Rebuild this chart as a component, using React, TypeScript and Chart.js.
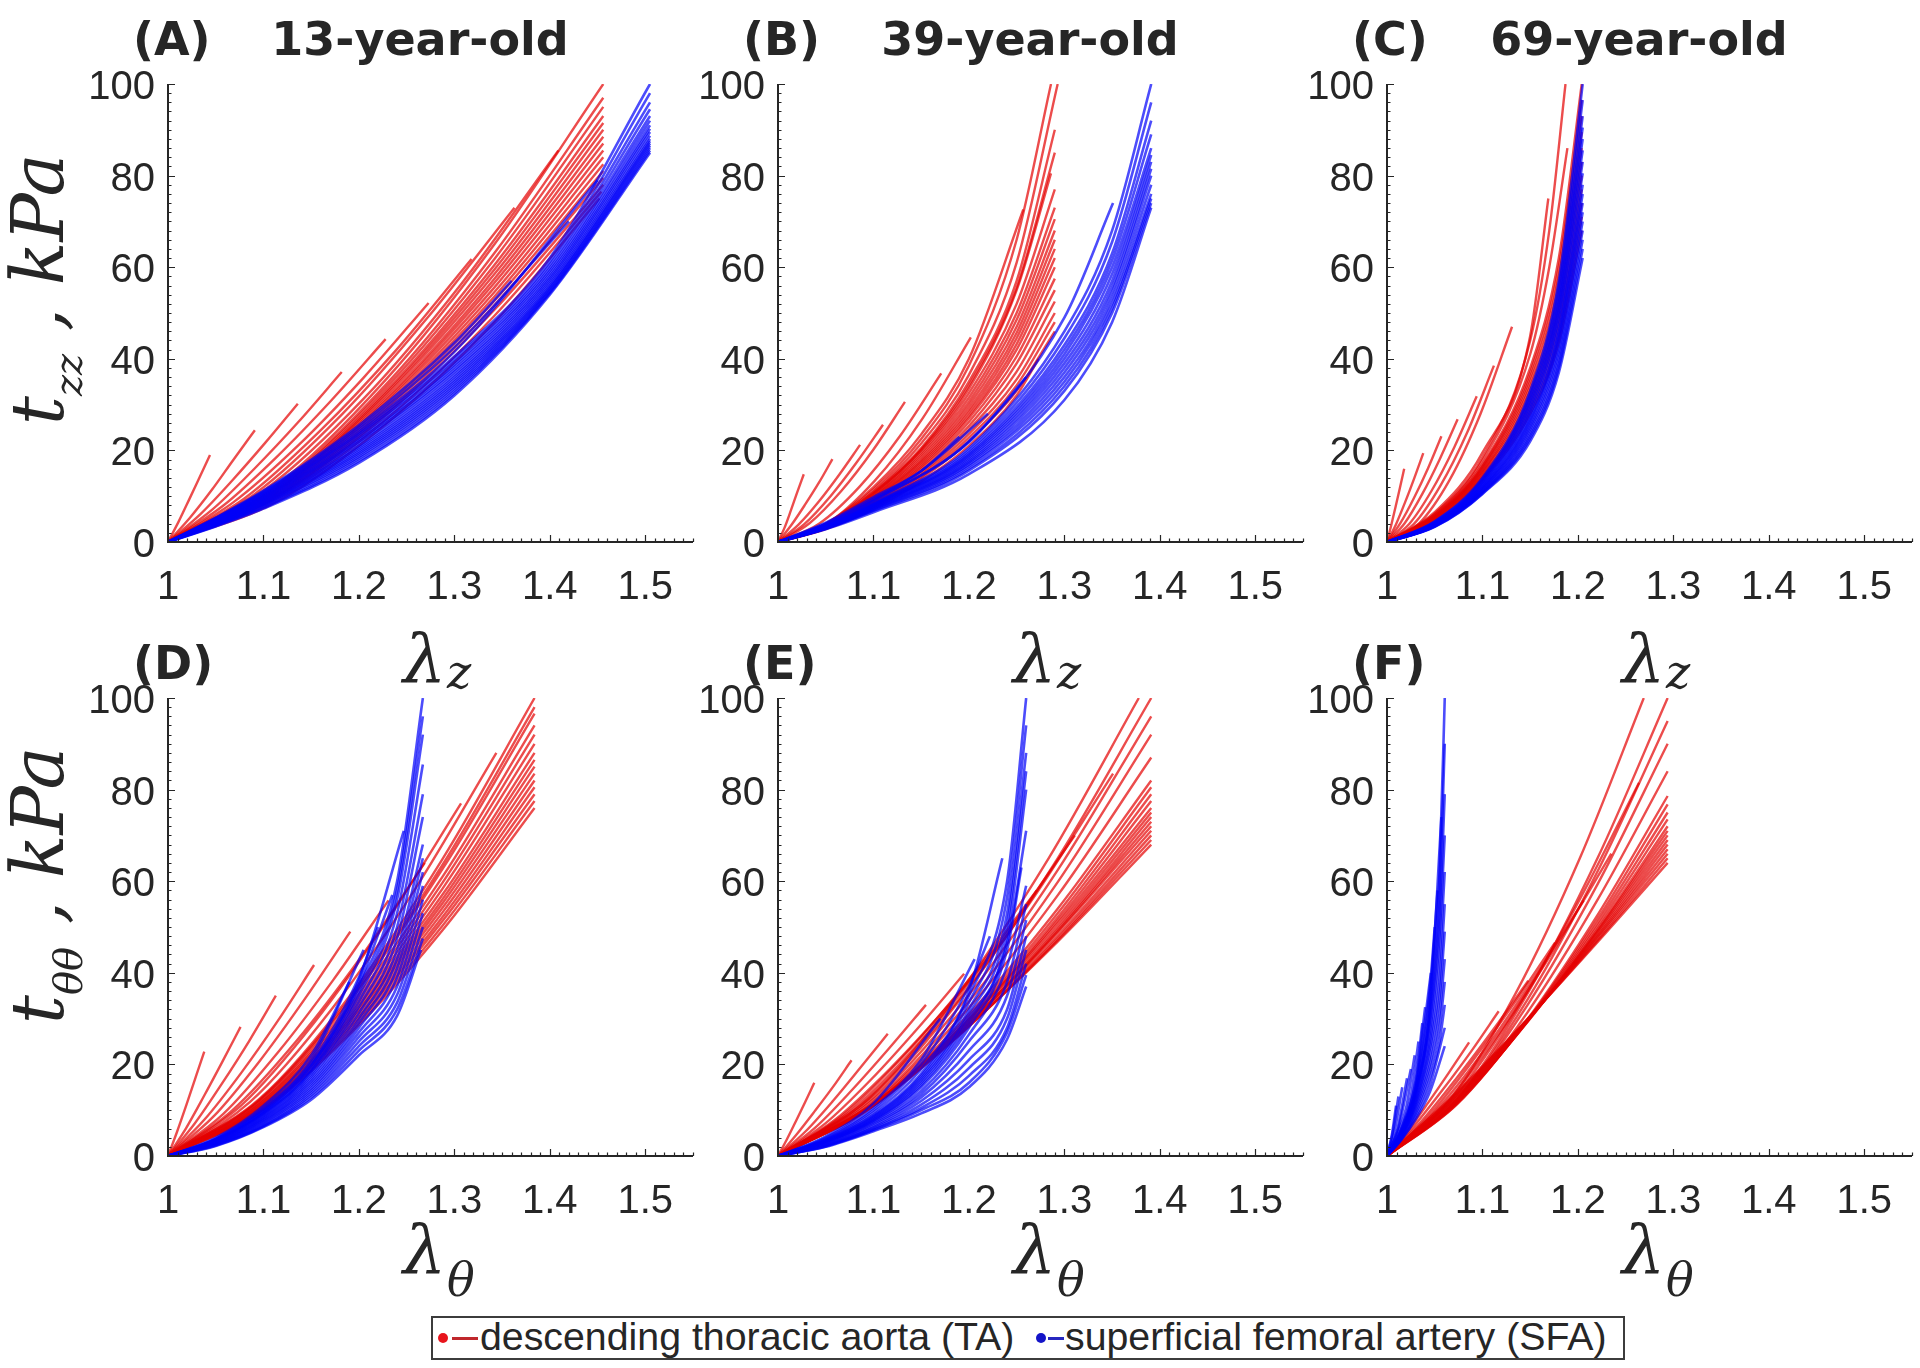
import React, { useEffect, useRef } from 'react';
import { Chart, registerables } from 'chart.js';

Chart.register(...registerables);

type Curve = [number, number][];

// ---------------- data ----------------
const X_TICKS = [1, 1.1, 1.2, 1.3, 1.4, 1.5];
const Y_TICKS = [0, 20, 40, 60, 80, 100];
const X_MIN = 1;
const X_MAX = 1.55;
const Y_MIN = 0;
const Y_MAX = 100;
const START: [number, number] = [1, 0];

const PANEL_LETTERS = ['(A)', '(B)', '(C)', '(D)', '(E)', '(F)'];
const AGE_TITLES = ['13-year-old', '39-year-old', '69-year-old'];
const SERIES_NAMES = ['descending thoracic aorta (TA)', 'superficial femoral artery (SFA)'];

// (A) 13-year-old, t_zz vs lambda_z
const A_TA: Curve[] = [
  [[1.011, 4.4], [1.022, 9.2], [1.033, 14.1], [1.044, 19]],
  [[1.023, 5.3], [1.046, 11.4], [1.068, 17.8], [1.091, 24.4]],
  [[1.034, 6.1], [1.068, 13.6], [1.102, 21.7], [1.136, 30.2]],
  [[1.046, 7.0], [1.091, 16.1], [1.137, 26.3], [1.182, 37.1]],
  [[1.057, 7.8], [1.114, 18.6], [1.171, 30.9], [1.228, 44.3]],
  [[1.068, 8.6], [1.137, 21.2], [1.205, 35.9], [1.273, 52.2]],
  [[1.08, 9.5], [1.159, 24.2], [1.239, 41.9], [1.318, 61.8]],
  [[1.091, 10.5], [1.182, 27.8], [1.272, 49.0], [1.363, 73]],
  [[1.102, 11.5], [1.205, 31.3], [1.307, 56.3], [1.409, 85.5]],
  [[1.114, 12.5], [1.228, 35.4], [1.342, 65.0], [1.456, 100]],
  [[1.114, 12.1], [1.228, 34.3], [1.342, 63.1], [1.456, 97]],
  [[1.114, 11.9], [1.228, 33.6], [1.342, 61.8], [1.456, 95]],
  [[1.114, 11.6], [1.228, 32.9], [1.342, 60.5], [1.456, 93]],
  [[1.114, 11.4], [1.228, 32.4], [1.342, 59.5], [1.456, 91.5]],
  [[1.114, 11.3], [1.228, 31.9], [1.342, 58.5], [1.456, 90]],
  [[1.114, 11.1], [1.228, 31.3], [1.342, 57.5], [1.456, 88.5]],
  [[1.114, 10.9], [1.228, 30.8], [1.342, 56.6], [1.456, 87]],
  [[1.114, 10.7], [1.228, 30.3], [1.342, 55.6], [1.456, 85.5]],
  [[1.114, 10.5], [1.228, 29.7], [1.342, 54.6], [1.456, 84]],
  [[1.114, 10.3], [1.228, 29.2], [1.342, 53.6], [1.456, 82.5]],
  [[1.114, 10.1], [1.228, 28.7], [1.342, 52.7], [1.456, 81]],
  [[1.114, 9.9], [1.228, 28.1], [1.342, 51.7], [1.456, 79.5]],
  [[1.114, 9.8], [1.228, 27.6], [1.342, 50.7], [1.456, 78]],
  [[1.114, 9.4], [1.228, 26.7], [1.342, 49.4], [1.454, 76.5]],
  [[1.114, 8.8], [1.228, 25.7], [1.342, 48.0], [1.452, 75]],
];
const A_SFA: Curve[] = [
  [[1.05, 5.0], [1.1, 10.6], [1.2, 24.0], [1.3, 40.5], [1.4, 62], [1.505, 100]],
  [[1.05, 4.9], [1.1, 10.4], [1.2, 23.6], [1.3, 39.9], [1.4, 61.2], [1.505, 98]],
  [[1.05, 4.8], [1.1, 10.2], [1.2, 23.2], [1.3, 39.3], [1.4, 60.5], [1.505, 96]],
  [[1.05, 4.7], [1.1, 10.0], [1.2, 22.7], [1.3, 38.7], [1.4, 59.8], [1.505, 94.5]],
  [[1.05, 4.6], [1.1, 9.8], [1.2, 22.3], [1.3, 38.2], [1.4, 59.2], [1.505, 93]],
  [[1.05, 4.5], [1.1, 9.6], [1.2, 21.9], [1.3, 37.6], [1.4, 58.6], [1.505, 92]],
  [[1.05, 4.4], [1.1, 9.4], [1.2, 21.5], [1.3, 37.1], [1.4, 58], [1.505, 91]],
  [[1.05, 4.3], [1.1, 9.2], [1.2, 21.0], [1.3, 36.5], [1.4, 57.5], [1.505, 90.2]],
  [[1.05, 4.2], [1.1, 9.0], [1.2, 20.6], [1.3, 36.0], [1.4, 57], [1.505, 89.5]],
  [[1.05, 4.1], [1.1, 8.8], [1.2, 20.2], [1.3, 35.5], [1.4, 56.5], [1.505, 88.7]],
  [[1.05, 4.0], [1.1, 8.6], [1.2, 19.8], [1.3, 35.0], [1.4, 56], [1.505, 88]],
  [[1.05, 3.9], [1.1, 8.4], [1.2, 19.4], [1.3, 34.5], [1.4, 55.6], [1.505, 87.5]],
  [[1.05, 3.8], [1.1, 8.2], [1.2, 19.0], [1.3, 34.0], [1.4, 55.3], [1.505, 87]],
  [[1.05, 3.7], [1.1, 8.0], [1.2, 18.6], [1.3, 33.5], [1.4, 54.9], [1.505, 86.5]],
  [[1.05, 3.6], [1.1, 7.8], [1.2, 18.2], [1.3, 33.0], [1.4, 54.6], [1.505, 86]],
  [[1.05, 3.5], [1.1, 7.5], [1.2, 17.7], [1.3, 32.5], [1.4, 54.3], [1.505, 85.5]],
  [[1.05, 3.4], [1.1, 7.3], [1.2, 17.3], [1.3, 32.0], [1.4, 54], [1.505, 85]],
  [[1.05, 5.3], [1.1, 11.2], [1.2, 25.5], [1.3, 43.5], [1.36, 57]],
  [[1.05, 5.2], [1.1, 11.0], [1.2, 25.0], [1.3, 42.5], [1.42, 70]],
  [[1.05, 5.1], [1.1, 10.8], [1.2, 24.5], [1.3, 41.5], [1.45, 79]],
];

// (B) 39-year-old, t_zz vs lambda_z
const B_TA: Curve[] = [
  [[1.007, 3.2], [1.0135, 6.9], [1.02, 10.8], [1.027, 14.8]],
  [[1.014, 3.7], [1.0285, 8.2], [1.043, 13.0], [1.057, 18.1]],
  [[1.0215, 3.8], [1.043, 8.9], [1.0645, 14.8], [1.086, 21.2]],
  [[1.0275, 3.9], [1.055, 10.0], [1.0825, 17.4], [1.11, 25.6]],
  [[1.033, 4.1], [1.0665, 11.2], [1.1, 20.2], [1.133, 30.6]],
  [[1.043, 4.0], [1.0855, 12.1], [1.128, 23.2], [1.171, 36.8]],
  [[1.0505, 3.9], [1.101, 13.3], [1.1515, 27.0], [1.202, 44.7]],
  [[1.05, 4.0], [1.1, 12.0], [1.15, 23.5], [1.2, 40], [1.257, 72.6]],
  [[1.05, 4.0], [1.1, 11.5], [1.15, 22.5], [1.2, 38.5], [1.25, 66], [1.286, 100]],
  [[1.05, 3.9], [1.1, 11.0], [1.15, 21.5], [1.2, 36.5], [1.25, 61], [1.293, 100]],
  [[1.05, 3.9], [1.1, 10.8], [1.15, 20.5], [1.2, 35], [1.25, 57], [1.29, 90]],
  [[1.05, 3.8], [1.1, 10.6], [1.15, 20.2], [1.2, 34.2], [1.25, 55.5], [1.29, 85]],
  [[1.05, 3.8], [1.1, 10.5], [1.15, 20], [1.2, 33.5], [1.25, 55], [1.286, 80.5]],
  [[1.05, 3.7], [1.1, 10.2], [1.15, 19.5], [1.2, 32.5], [1.25, 52], [1.29, 77]],
  [[1.05, 3.6], [1.1, 10.0], [1.15, 19], [1.2, 31.5], [1.25, 50], [1.29, 73]],
  [[1.05, 3.55], [1.1, 9.8], [1.15, 18.5], [1.2, 30.6], [1.25, 48.5], [1.29, 70.5]],
  [[1.05, 3.5], [1.1, 9.6], [1.15, 18], [1.2, 29.8], [1.25, 47], [1.29, 68]],
  [[1.05, 3.45], [1.1, 9.4], [1.15, 17.6], [1.2, 29], [1.25, 45.7], [1.29, 66]],
  [[1.05, 3.4], [1.1, 9.2], [1.15, 17.2], [1.2, 28.3], [1.25, 44.5], [1.29, 64]],
  [[1.05, 3.35], [1.1, 9.0], [1.15, 16.8], [1.2, 27.6], [1.25, 43.2], [1.29, 62]],
  [[1.05, 3.3], [1.1, 8.8], [1.15, 16.4], [1.2, 27], [1.25, 42], [1.29, 60]],
  [[1.05, 3.2], [1.1, 8.6], [1.15, 16], [1.2, 26.2], [1.25, 40.5], [1.29, 57.5]],
  [[1.05, 3.1], [1.1, 8.4], [1.15, 15.5], [1.2, 25.3], [1.25, 39], [1.29, 55]],
  [[1.05, 3.05], [1.1, 8.2], [1.15, 15], [1.2, 24.5], [1.25, 37.2], [1.29, 52.5]],
  [[1.05, 3.0], [1.1, 8.0], [1.15, 14.6], [1.2, 23.6], [1.25, 35.5], [1.29, 50]],
  [[1.05, 2.95], [1.1, 7.8], [1.15, 14.2], [1.2, 22.8], [1.25, 34.2], [1.29, 48]],
  [[1.05, 2.9], [1.1, 7.6], [1.15, 13.8], [1.2, 22], [1.25, 33], [1.29, 46]],
  [[1.05, 2.8], [1.1, 7.3], [1.15, 13.2], [1.2, 21], [1.25, 32], [1.273, 40]],
];
const B_SFA: Curve[] = [
  [[1.05, 3.5], [1.1, 8.5], [1.2, 20.5], [1.3, 46], [1.35, 68], [1.391, 100]],
  [[1.05, 3.45], [1.1, 8.35], [1.2, 20], [1.3, 44.5], [1.35, 65.5], [1.391, 96]],
  [[1.05, 3.4], [1.1, 8.2], [1.2, 19.5], [1.3, 43], [1.35, 63], [1.391, 92]],
  [[1.05, 3.35], [1.1, 8.1], [1.2, 19.1], [1.3, 42], [1.35, 61.5], [1.391, 89]],
  [[1.05, 3.3], [1.1, 8.0], [1.2, 18.8], [1.3, 41], [1.35, 60], [1.391, 86]],
  [[1.05, 3.25], [1.1, 7.85], [1.2, 18.4], [1.3, 40], [1.35, 58.5], [1.391, 84.5]],
  [[1.05, 3.2], [1.1, 7.7], [1.2, 18.0], [1.3, 39], [1.35, 57], [1.391, 83]],
  [[1.05, 3.15], [1.1, 7.55], [1.2, 17.6], [1.3, 38], [1.35, 55.7], [1.391, 81.5]],
  [[1.05, 3.1], [1.1, 7.4], [1.2, 17.3], [1.3, 37], [1.35, 54.5], [1.391, 80]],
  [[1.05, 3.05], [1.1, 7.25], [1.2, 16.9], [1.3, 36], [1.35, 53.2], [1.391, 78]],
  [[1.05, 3.0], [1.1, 7.1], [1.2, 16.5], [1.3, 35], [1.35, 52], [1.391, 76]],
  [[1.05, 2.95], [1.1, 6.95], [1.2, 16], [1.3, 34], [1.35, 51], [1.391, 75]],
  [[1.05, 2.9], [1.1, 6.8], [1.2, 15.6], [1.3, 33], [1.35, 50], [1.391, 74]],
  [[1.05, 2.8], [1.1, 6.5], [1.2, 14.8], [1.3, 31], [1.35, 48], [1.391, 73]],
  [[1.05, 3.6], [1.1, 9.0], [1.2, 22.0], [1.3, 49], [1.351, 74]],
  [[1.05, 4.2], [1.1, 9.8], [1.15, 15.5], [1.19, 23]],
  [[1.05, 4.0], [1.1, 9.4], [1.15, 15.5], [1.22, 28]],
  [[1.05, 3.9], [1.1, 9.1], [1.2, 21.8], [1.26, 36]],
];

// (C) 69-year-old, t_zz vs lambda_z
const C_TA: Curve[] = [
  [[1.0045, 3.7], [1.009, 7.7], [1.0135, 11.8], [1.018, 16]],
  [[1.0095, 3.9], [1.019, 8.7], [1.0285, 13.9], [1.038, 19.4]],
  [[1.014, 4.1], [1.0285, 9.7], [1.043, 16.1], [1.057, 23.1]],
  [[1.0185, 4.1], [1.037, 10.5], [1.0555, 18.2], [1.074, 26.8]],
  [[1.0235, 4.0], [1.047, 11.3], [1.0705, 20.7], [1.094, 31.8]],
  [[1.028, 3.9], [1.056, 12.3], [1.084, 23.9], [1.112, 38.5]],
  [[1.033, 3.9], [1.0655, 13.5], [1.098, 28.0], [1.131, 47]],
  [[1.05, 6.5], [1.1, 19.5], [1.15, 45], [1.169, 75]],
  [[1.05, 6.2], [1.1, 18.5], [1.15, 44], [1.17, 68], [1.187, 100]],
  [[1.05, 6.0], [1.1, 17.8], [1.15, 41], [1.17, 60], [1.189, 86]],
  [[1.05, 5.8], [1.1, 17], [1.15, 38], [1.18, 62], [1.204, 100]],
  [[1.05, 5.7], [1.1, 16.6], [1.15, 37], [1.18, 60], [1.204, 96.5]],
  [[1.05, 5.6], [1.1, 16.3], [1.15, 36], [1.18, 58], [1.204, 93]],
  [[1.05, 5.5], [1.1, 16], [1.15, 35], [1.18, 56], [1.204, 89.5]],
  [[1.05, 5.4], [1.1, 15.6], [1.15, 34], [1.18, 54], [1.204, 86]],
  [[1.05, 5.3], [1.1, 15.3], [1.15, 33], [1.18, 52], [1.204, 83]],
  [[1.05, 5.2], [1.1, 15], [1.15, 32], [1.18, 50.5], [1.204, 80]],
  [[1.05, 5.1], [1.1, 14.6], [1.15, 31], [1.18, 48.7], [1.204, 77]],
  [[1.05, 5.0], [1.1, 14.3], [1.15, 30], [1.18, 47], [1.204, 74]],
  [[1.05, 4.9], [1.1, 14], [1.15, 29], [1.18, 45], [1.204, 71]],
  [[1.05, 4.8], [1.1, 13.6], [1.15, 28], [1.18, 43.5], [1.204, 68]],
];
const C_SFA: Curve[] = [
  [[1.05, 4.5], [1.1, 14], [1.15, 33], [1.18, 57], [1.205, 100]],
  [[1.05, 4.4], [1.1, 13.7], [1.15, 32.2], [1.18, 55.5], [1.205, 96.5]],
  [[1.05, 4.3], [1.1, 13.4], [1.15, 31.5], [1.18, 54], [1.205, 93]],
  [[1.05, 4.2], [1.1, 13.1], [1.15, 30.7], [1.18, 52.7], [1.205, 90.5]],
  [[1.05, 4.1], [1.1, 12.9], [1.15, 30], [1.18, 51.5], [1.205, 88]],
  [[1.05, 4.0], [1.1, 12.6], [1.15, 29.2], [1.18, 50.2], [1.205, 85.5]],
  [[1.05, 3.9], [1.1, 12.4], [1.15, 28.5], [1.18, 49], [1.205, 83]],
  [[1.05, 3.8], [1.1, 12.1], [1.15, 27.7], [1.18, 47.5], [1.205, 80.5]],
  [[1.05, 3.7], [1.1, 11.9], [1.15, 27], [1.18, 46], [1.205, 78]],
  [[1.05, 3.65], [1.1, 11.7], [1.15, 26.4], [1.18, 45], [1.205, 76]],
  [[1.05, 3.6], [1.1, 11.5], [1.15, 25.8], [1.18, 44], [1.205, 74]],
  [[1.05, 3.55], [1.1, 11.3], [1.15, 25.1], [1.18, 42.7], [1.205, 72]],
  [[1.05, 3.5], [1.1, 11.1], [1.15, 24.5], [1.18, 41.5], [1.205, 70]],
  [[1.05, 3.45], [1.1, 10.9], [1.15, 23.8], [1.18, 40.2], [1.205, 68]],
  [[1.05, 3.4], [1.1, 10.8], [1.15, 23.2], [1.18, 39], [1.205, 66]],
  [[1.05, 3.35], [1.1, 10.6], [1.15, 22.6], [1.18, 38], [1.205, 64]],
  [[1.05, 3.3], [1.1, 10.5], [1.15, 22], [1.18, 37], [1.205, 62]],
];

// (D) 13-year-old, t_thetatheta vs lambda_theta
const D_TA: Curve[] = [
  [[1.0095, 5.3], [1.019, 11.0], [1.0285, 16.9], [1.038, 22.8]],
  [[1.019, 6.1], [1.038, 13.2], [1.057, 20.6], [1.076, 28.2]],
  [[1.028, 7.1], [1.0565, 15.8], [1.085, 25.1], [1.113, 35]],
  [[1.038, 7.9], [1.0765, 18.1], [1.115, 29.5], [1.153, 41.7]],
  [[1.048, 8.7], [1.0955, 20.6], [1.143, 34.2], [1.191, 49]],
  [[1.058, 9.2], [1.1155, 22.7], [1.173, 38.4], [1.231, 55.8]],
  [[1.067, 9.9], [1.1345, 25.1], [1.202, 43.4], [1.269, 64]],
  [[1.077, 11.1], [1.1535, 29.2], [1.23, 51.5], [1.307, 77]],
  [[1.086, 11.8], [1.172, 32.2], [1.258, 58.0], [1.344, 88]],
  [[1.096, 12.5], [1.192, 35.4], [1.288, 65.0], [1.384, 100]],
  [[1.096, 12.3], [1.192, 34.7], [1.288, 63.7], [1.384, 98]],
  [[1.096, 12.1], [1.192, 34.2], [1.288, 62.8], [1.384, 96.6]],
  [[1.096, 11.8], [1.192, 33.3], [1.288, 61.1], [1.384, 94]],
  [[1.096, 11.5], [1.192, 32.6], [1.288, 59.8], [1.384, 92]],
  [[1.096, 11.3], [1.192, 31.9], [1.288, 58.5], [1.384, 90]],
  [[1.096, 11.0], [1.192, 31.2], [1.288, 57.2], [1.384, 88]],
  [[1.096, 10.8], [1.192, 30.6], [1.288, 56.2], [1.384, 86.5]],
  [[1.096, 10.6], [1.192, 30.1], [1.288, 55.3], [1.384, 85]],
  [[1.096, 10.4], [1.192, 29.6], [1.288, 54.3], [1.384, 83.5]],
  [[1.096, 10.3], [1.192, 29.0], [1.288, 53.3], [1.384, 82]],
  [[1.096, 10.1], [1.192, 28.5], [1.288, 52.3], [1.384, 80.5]],
  [[1.096, 9.9], [1.192, 28.0], [1.288, 51.4], [1.384, 79]],
  [[1.096, 9.7], [1.192, 27.4], [1.288, 50.4], [1.384, 77.5]],
  [[1.096, 9.5], [1.192, 26.9], [1.288, 49.4], [1.384, 76]],
];
const D_SFA: Curve[] = [
  [[1.05, 3.5], [1.1, 9.5], [1.15, 19], [1.2, 37], [1.24, 60], [1.267, 100]],
  [[1.05, 3.45], [1.1, 9.35], [1.15, 18.6], [1.2, 36], [1.24, 58], [1.267, 96]],
  [[1.05, 3.4], [1.1, 9.2], [1.15, 18.3], [1.2, 35], [1.24, 56], [1.267, 92]],
  [[1.05, 3.3], [1.1, 8.95], [1.15, 17.8], [1.2, 33.7], [1.24, 53], [1.267, 85.5]],
  [[1.05, 3.2], [1.1, 8.7], [1.15, 17.3], [1.2, 32.5], [1.24, 50], [1.267, 79]],
  [[1.05, 3.6], [1.1, 9.8], [1.15, 19.8], [1.2, 38.5], [1.247, 71]],
  [[1.05, 3.1], [1.1, 8.45], [1.15, 16.8], [1.2, 31.2], [1.24, 47.5], [1.267, 74]],
  [[1.05, 3.0], [1.1, 8.2], [1.15, 16.3], [1.2, 30], [1.24, 45], [1.267, 68]],
  [[1.05, 2.9], [1.1, 7.95], [1.15, 15.8], [1.2, 29], [1.24, 43], [1.267, 65]],
  [[1.05, 2.8], [1.1, 7.7], [1.15, 15.3], [1.2, 28], [1.24, 41], [1.267, 62]],
  [[1.05, 2.7], [1.1, 7.45], [1.15, 14.8], [1.2, 27], [1.24, 39], [1.267, 59]],
  [[1.05, 2.6], [1.1, 7.2], [1.15, 14.3], [1.2, 26], [1.24, 37], [1.267, 56]],
  [[1.05, 2.5], [1.1, 6.9], [1.15, 13.8], [1.2, 25], [1.24, 35.2], [1.267, 53]],
  [[1.05, 2.4], [1.1, 6.6], [1.15, 13.3], [1.2, 24], [1.24, 33.5], [1.267, 50]],
  [[1.05, 2.3], [1.1, 6.45], [1.15, 12.8], [1.2, 23], [1.24, 32], [1.267, 47.5]],
  [[1.05, 2.2], [1.1, 6.3], [1.15, 12.3], [1.2, 22], [1.24, 30.6], [1.265, 45]],
  [[1.05, 4.0], [1.1, 11], [1.15, 22], [1.19, 38]],
  [[1.05, 3.8], [1.1, 10.5], [1.15, 21], [1.205, 45]],
  [[1.05, 3.7], [1.1, 10.2], [1.15, 20.3], [1.2, 39], [1.22, 50]],
  [[1.05, 3.6], [1.1, 9.8], [1.15, 19.6], [1.2, 37.5], [1.235, 57]],
];

// (E) 39-year-old, t_thetatheta vs lambda_theta
const E_TA: Curve[] = [
  [[1.0095, 3.7], [1.019, 7.7], [1.0285, 11.8], [1.038, 16]],
  [[1.019, 4.6], [1.0385, 9.8], [1.058, 15.2], [1.077, 20.9]],
  [[1.029, 5.4], [1.0575, 12.0], [1.086, 19.2], [1.115, 26.7]],
  [[1.039, 6.2], [1.0775, 14.4], [1.116, 23.4], [1.155, 33]],
  [[1.049, 7.0], [1.0975, 16.7], [1.146, 27.8], [1.195, 39.8]],
  [[1.059, 7.8], [1.1175, 19.1], [1.176, 32.3], [1.235, 47]],
  [[1.068, 8.9], [1.1355, 22.7], [1.203, 39.3], [1.271, 58]],
  [[1.078, 10.1], [1.1555, 26.5], [1.233, 46.8], [1.311, 70]],
  [[1.088, 11.2], [1.1755, 30.6], [1.263, 55.0], [1.351, 83.5]],
  [[1.0945, 12.5], [1.189, 35.4], [1.2835, 65], [1.378, 100]],
  [[1.098, 12.5], [1.1955, 35.4], [1.293, 65.0], [1.391, 100]],
  [[1.098, 12.0], [1.1955, 34.0], [1.293, 62.4], [1.391, 96]],
  [[1.098, 11.5], [1.1955, 32.6], [1.293, 59.8], [1.391, 92]],
  [[1.098, 11.2], [1.1955, 31.3], [1.293, 56.9], [1.391, 87]],
  [[1.098, 11.0], [1.1955, 30.0], [1.293, 54.0], [1.391, 82]],
  [[1.098, 10.8], [1.1955, 29.4], [1.293, 53.0], [1.391, 80.5]],
  [[1.098, 10.6], [1.1955, 28.9], [1.293, 52.1], [1.391, 79]],
  [[1.098, 10.7], [1.1955, 28.8], [1.293, 51.4], [1.391, 77.5]],
  [[1.098, 10.9], [1.1955, 28.8], [1.293, 50.8], [1.391, 76]],
  [[1.098, 10.8], [1.1955, 28.4], [1.293, 50.1], [1.391, 75]],
  [[1.098, 10.7], [1.1955, 28.0], [1.293, 49.5], [1.391, 74]],
  [[1.098, 10.9], [1.1955, 28.1], [1.293, 49.1], [1.391, 73]],
  [[1.098, 11.1], [1.1955, 28.2], [1.293, 48.8], [1.391, 72]],
  [[1.098, 10.9], [1.1955, 27.8], [1.293, 48.1], [1.391, 71]],
  [[1.098, 10.8], [1.1955, 27.4], [1.293, 47.5], [1.391, 70]],
  [[1.098, 11.0], [1.1955, 27.5], [1.293, 47.1], [1.391, 69]],
  [[1.098, 11.2], [1.1955, 27.6], [1.293, 46.8], [1.391, 68]],
];
const E_SFA: Curve[] = [
  [[1.05, 3.5], [1.1, 9], [1.15, 18], [1.2, 35], [1.24, 60], [1.26, 100]],
  [[1.05, 3.4], [1.1, 8.75], [1.15, 17.5], [1.2, 33.5], [1.24, 56.5], [1.26, 94]],
  [[1.05, 3.3], [1.1, 8.5], [1.15, 17], [1.2, 32], [1.24, 53], [1.26, 88]],
  [[1.05, 3.2], [1.1, 8.25], [1.15, 16.5], [1.2, 31], [1.24, 50.5], [1.26, 84]],
  [[1.05, 3.1], [1.1, 8], [1.15, 16], [1.2, 30], [1.24, 48], [1.26, 80]],
  [[1.05, 3.05], [1.1, 7.8], [1.15, 15.5], [1.2, 29], [1.24, 46.5], [1.26, 71]],
  [[1.05, 3.0], [1.1, 7.6], [1.15, 15], [1.2, 28], [1.24, 45], [1.255, 63]],
  [[1.05, 2.85], [1.1, 7.3], [1.15, 14.2], [1.2, 26.5], [1.24, 41.5], [1.26, 59]],
  [[1.05, 2.7], [1.1, 7], [1.15, 13.5], [1.2, 25], [1.24, 38], [1.26, 55]],
  [[1.05, 2.55], [1.1, 6.65], [1.15, 12.8], [1.2, 23], [1.24, 35], [1.26, 51.5]],
  [[1.05, 2.4], [1.1, 6.3], [1.15, 12], [1.2, 21], [1.24, 32], [1.26, 48]],
  [[1.05, 2.3], [1.1, 6.05], [1.15, 11.2], [1.2, 19.2], [1.24, 30], [1.26, 45]],
  [[1.05, 2.2], [1.1, 5.8], [1.15, 10.5], [1.2, 17.5], [1.24, 28], [1.26, 42]],
  [[1.05, 2.1], [1.1, 5.65], [1.15, 10], [1.2, 16], [1.24, 27], [1.26, 39.5]],
  [[1.05, 2.0], [1.1, 5.4], [1.15, 9.3], [1.2, 15], [1.24, 25.5], [1.26, 37]],
  [[1.05, 4.0], [1.1, 10.5], [1.15, 21], [1.206, 43]],
  [[1.05, 3.8], [1.1, 10], [1.15, 20], [1.2, 37], [1.222, 48]],
  [[1.05, 3.6], [1.1, 9.5], [1.15, 19], [1.2, 36], [1.235, 65]],
  [[1.05, 4.3], [1.1, 11.5], [1.17, 30]],
];

// (F) 69-year-old, t_thetatheta vs lambda_theta
const F_TA: Curve[] = [
  [[1.0215, 5.4], [1.043, 11.6], [1.0645, 18.1], [1.086, 24.8]],
  [[1.029, 6.7], [1.0585, 14.5], [1.088, 22.8], [1.117, 31.6]],
  [[1.037, 7.8], [1.074, 17.3], [1.111, 27.5], [1.148, 38.3]],
  [[1.044, 8.8], [1.088, 20.3], [1.132, 33.0], [1.176, 46.6]],
  [[1.0515, 9.9], [1.103, 23.4], [1.1545, 39.0], [1.206, 55.8]],
  [[1.059, 10.9], [1.1175, 26.8], [1.176, 45.4], [1.235, 66]],
  [[1.066, 11.7], [1.132, 30.9], [1.198, 54.5], [1.264, 81.5]],
  [[1.067, 12.5], [1.1345, 35.4], [1.202, 65], [1.269, 100]],
  [[1.0735, 12.5], [1.147, 35.4], [1.2205, 65.0], [1.294, 100]],
  [[1.0735, 12.3], [1.147, 34.1], [1.2205, 62.1], [1.294, 95]],
  [[1.0735, 12.1], [1.147, 32.9], [1.2205, 59.3], [1.294, 90]],
  [[1.0735, 11.7], [1.147, 31.3], [1.2205, 55.9], [1.294, 84]],
  [[1.0735, 11.3], [1.147, 29.8], [1.2205, 52.6], [1.294, 78.6]],
  [[1.0735, 11.4], [1.147, 29.6], [1.2205, 51.7], [1.294, 76.8]],
  [[1.0735, 11.6], [1.147, 29.4], [1.2205, 50.9], [1.294, 75]],
  [[1.0735, 11.7], [1.147, 29.3], [1.2205, 50.2], [1.294, 73.5]],
  [[1.0735, 11.9], [1.147, 29.2], [1.2205, 49.5], [1.294, 72]],
  [[1.0735, 12.1], [1.147, 29.3], [1.2205, 49.2], [1.294, 71]],
  [[1.0735, 12.4], [1.147, 29.4], [1.2205, 48.9], [1.294, 70]],
  [[1.0735, 12.6], [1.147, 29.5], [1.2205, 48.5], [1.294, 69]],
  [[1.0735, 12.9], [1.147, 29.6], [1.2205, 48.1], [1.294, 68]],
  [[1.0735, 13.1], [1.147, 29.7], [1.2205, 47.8], [1.294, 67]],
  [[1.0735, 13.4], [1.147, 29.8], [1.2205, 47.4], [1.294, 66]],
  [[1.0735, 13.7], [1.147, 29.8], [1.2205, 47.0], [1.294, 65]],
  [[1.0735, 14.0], [1.147, 29.9], [1.2205, 46.7], [1.294, 64]],
];
const F_SFA: Curve[] = [
  [[1.015, 5], [1.03, 14], [1.045, 32], [1.055, 62], [1.0605, 100]],
  [[1.015, 4.9], [1.03, 13.5], [1.045, 30.5], [1.055, 57], [1.0605, 90]],
  [[1.015, 4.8], [1.03, 13], [1.045, 29], [1.055, 52], [1.0605, 79]],
  [[1.015, 4.6], [1.03, 12.5], [1.045, 27], [1.055, 48], [1.0605, 70]],
  [[1.015, 4.5], [1.03, 12], [1.045, 25], [1.055, 43], [1.0605, 62]],
  [[1.015, 4.4], [1.03, 11.5], [1.045, 23.5], [1.055, 38], [1.0605, 55]],
  [[1.015, 4.3], [1.03, 11], [1.045, 21.7], [1.055, 34.5], [1.0605, 49]],
  [[1.015, 4.2], [1.03, 10.5], [1.045, 20], [1.055, 31], [1.0605, 43]],
  [[1.015, 4.0], [1.03, 9.8], [1.045, 18.5], [1.055, 28], [1.0605, 38]],
  [[1.015, 3.8], [1.03, 9.2], [1.045, 17], [1.055, 25], [1.0605, 33]],
  [[1.015, 3.6], [1.03, 8.6], [1.045, 15.5], [1.0605, 28]],
  [[1.015, 3.5], [1.03, 8], [1.045, 14], [1.0605, 24]],
  [[1.015, 5], [1.03, 14], [1.045, 33], [1.057, 74]],
  [[1.015, 5.2], [1.03, 14.5], [1.045, 35], [1.053, 58]],
  [[1.015, 5.3], [1.03, 14.7], [1.045, 37], [1.05, 50]],
  [[1.015, 5.5], [1.03, 15], [1.046, 40]],
  [[1.015, 5.7], [1.03, 16], [1.04, 32.5]],
  [[1.015, 5.8], [1.03, 16.5], [1.037, 29]],
  [[1.015, 6], [1.025, 13], [1.033, 25]],
  [[1.01, 4.5], [1.02, 10.5], [1.029, 22]],
  [[1.0125, 6.5], [1.025, 19]],
  [[1.0105, 5.5], [1.021, 17]],
  [[1.008, 5.5], [1.016, 15]],
  [[1.006, 5], [1.012, 13]],
  [[1.005, 4.5], [1.0095, 11]],
];

const TA_SETS = [A_TA, B_TA, C_TA, D_TA, E_TA, F_TA];
const SFA_SETS = [A_SFA, B_SFA, C_SFA, D_SFA, E_SFA, F_SFA];

// ---------------- styling / layout ----------------
const RED = 'rgba(228, 0, 0, 0.7)';
const BLUE = 'rgba(0, 0, 250, 0.7)';
const INK = '#262626';
const SANS = "'Liberation Sans', Arial, Helvetica, sans-serif";
const BOLD_SANS = "'DejaVu Sans', 'Liberation Sans', sans-serif";
const MATH_SERIF = "'DejaVu Serif', 'Liberation Serif', serif";

const COL_LEFT = [168, 778, 1387];
const ROW_TOP = [84, 698];
const PLOT_W = 525;
const PLOT_H = 458;
const PAD = { left: 100, top: 30, right: 20, bottom: 70 };
const CANVAS_W = PLOT_W + PAD.left + PAD.right;
const CANVAS_H = PLOT_H + PAD.top + PAD.bottom;

const axesPlugin = {
  id: 'matlabAxes',
  afterDatasetsDraw(chart: any) {
    const { ctx } = chart;
    const xs = chart.scales.x;
    const ys = chart.scales.y;
    const xL = xs.getPixelForValue(X_MIN);
    const xR = xs.getPixelForValue(X_MAX);
    const yB = ys.getPixelForValue(Y_MIN);
    const yT = ys.getPixelForValue(Y_MAX);
    ctx.save();
    ctx.strokeStyle = INK;
    ctx.lineWidth = 1.2;
    ctx.beginPath();
    for (let k = 0; k <= 55; k++) {
      const px = Math.round(xs.getPixelForValue(1 + k * 0.01)) + 0.5;
      const len = k % 10 === 0 ? 7 : 3.5;
      ctx.moveTo(px, yB);
      ctx.lineTo(px, yB - len);
    }
    for (let k = 0; k <= 50; k++) {
      const py = Math.round(ys.getPixelForValue(k * 2)) + 0.5;
      const len = k % 10 === 0 ? 7 : 3.5;
      ctx.moveTo(xL, py);
      ctx.lineTo(xL + len, py);
    }
    ctx.stroke();
    ctx.lineWidth = 2;
    ctx.beginPath();
    ctx.moveTo(xL, yT);
    ctx.lineTo(xL, yB);
    ctx.lineTo(xR, yB);
    ctx.stroke();
    ctx.restore();
  },
};

function makeConfig(ta: Curve[], sfa: Curve[]): any {
  const ds = (c: Curve, color: string, w: number) => ({
    data: [START, ...c].map(([x, y]) => ({ x, y })),
    showLine: true,
    borderColor: color,
    backgroundColor: color,
    borderWidth: w,
    pointRadius: 0,
    pointHoverRadius: 0,
    cubicInterpolationMode: 'monotone',
    fill: false,
  });
  return {
    type: 'scatter',
    data: {
      datasets: [...sfa.map((c) => ds(c, BLUE, 2.6)), ...ta.map((c) => ds(c, RED, 2.4))],
    },
    options: {
      animation: false,
      responsive: false,
      maintainAspectRatio: false,
      devicePixelRatio: 1,
      events: [],
      layout: { padding: { left: 0, top: PAD.top, right: PAD.right, bottom: 0 } },
      plugins: { legend: { display: false }, tooltip: { enabled: false }, title: { display: false } },
      scales: {
        x: {
          type: 'linear',
          min: X_MIN,
          max: X_MAX,
          afterBuildTicks: (s: any) => {
            s.ticks = X_TICKS.map((value) => ({ value }));
          },
          afterFit: (s: any) => {
            s.height = PAD.bottom;
          },
          grid: { display: false, drawTicks: false },
          border: { display: false },
          ticks: {
            autoSkip: false,
            maxRotation: 0,
            padding: 22,
            color: INK,
            font: { family: SANS, size: 40 },
            callback: (v: any) => String(Math.round(Number(v) * 10) / 10),
          },
        },
        y: {
          type: 'linear',
          min: Y_MIN,
          max: Y_MAX,
          afterBuildTicks: (s: any) => {
            s.ticks = Y_TICKS.map((value) => ({ value }));
          },
          afterFit: (s: any) => {
            s.width = PAD.left;
          },
          grid: { display: false, drawTicks: false },
          border: { display: false },
          ticks: {
            autoSkip: false,
            padding: 13,
            labelOffset: 4,
            color: INK,
            font: { family: SANS, size: 40 },
            callback: (v: any) => String(v),
          },
        },
      },
    },
    plugins: [axesPlugin],
  };
}

function Panel({ index }: { index: number }) {
  const ref = useRef<HTMLCanvasElement | null>(null);
  const col = index % 3;
  const row = Math.floor(index / 3);
  useEffect(() => {
    const canvas = ref.current;
    if (!canvas) return;
    const chart = new Chart(canvas, makeConfig(TA_SETS[index], SFA_SETS[index]));
    // make the plot area exactly PLOT_W x PLOT_H and place it at the panel origin
    for (let pass = 0; pass < 2; pass++) {
      const ca = chart.chartArea;
      const dw = PLOT_W - (ca.right - ca.left);
      const dh = PLOT_H - (ca.bottom - ca.top);
      if (Math.abs(dw) > 0.25 || Math.abs(dh) > 0.25) {
        chart.resize(chart.width + dw, chart.height + dh);
      }
    }
    const ca = chart.chartArea;
    canvas.style.left = `${COL_LEFT[col] - ca.left}px`;
    canvas.style.top = `${ROW_TOP[row] - ca.top}px`;
    return () => chart.destroy();
  }, [index]);
  return (
    <canvas
      ref={ref}
      width={CANVAS_W}
      height={CANVAS_H}
      style={{ position: 'absolute', left: COL_LEFT[col] - PAD.left, top: ROW_TOP[row] - PAD.top }}
    />
  );
}

// text placed by baseline (k = baseline offset in em for line-height 1)
function Txt(props: {
  x: number;
  base: number;
  size: number;
  family: string;
  k: number;
  bold?: boolean;
  italic?: boolean;
  center?: boolean;
  children: React.ReactNode;
}) {
  return (
    <div
      style={{
        position: 'absolute',
        left: props.x,
        top: props.base - props.k * props.size,
        fontFamily: props.family,
        fontSize: props.size,
        lineHeight: `${props.size}px`,
        fontWeight: props.bold ? 'bold' : 'normal',
        fontStyle: props.italic ? 'italic' : 'normal',
        color: INK,
        whiteSpace: 'nowrap',
        transform: props.center ? 'translateX(-50%)' : undefined,
      }}
    >
      {props.children}
    </div>
  );
}

function YTitle({ startY, sub }: { startY: number; sub: string }) {
  return (
    <div
      style={{
        position: 'absolute',
        left: 2,
        top: startY,
        transformOrigin: '0 0',
        transform: 'rotate(-90deg)',
        fontFamily: MATH_SERIF,
        fontStyle: 'italic',
        fontSize: 72,
        lineHeight: '72px',
        color: INK,
        whiteSpace: 'nowrap',
      }}
    >
      <span>t</span>
      <span style={{ fontSize: 40, position: 'relative', top: 19 }}>{sub}</span>
      <span> , kPa</span>
    </div>
  );
}

export default function App() {
  const titleBase = [55, 679];
  const lamBase = [683, 1274];
  const lamSub = ['z', 'θ'];
  const lamSubBase = [688, 1296];
  return (
    <div
      style={{
        position: 'absolute',
        left: 0,
        top: 0,
        width: 1920,
        height: 1368,
        background: '#ffffff',
        overflow: 'hidden',
      }}
    >
      {[0, 1, 2, 3, 4, 5].map((i) => (
        <Panel key={i} index={i} />
      ))}
      {[0, 1, 2, 3, 4, 5].map((i) => {
        const col = i % 3;
        const row = Math.floor(i / 3);
        const ax = COL_LEFT[col];
        return (
          <React.Fragment key={'t' + i}>
            <Txt x={ax - 35} base={titleBase[row]} size={46} family={BOLD_SANS} k={0.846} bold>
              {PANEL_LETTERS[i]}
            </Txt>
            {row === 0 && (
              <Txt x={ax + 252} base={titleBase[row]} size={46} family={BOLD_SANS} k={0.846} bold center>
                {AGE_TITLES[col]}
              </Txt>
            )}
            <Txt x={ax + 235} base={lamBase[row]} size={68} family={MATH_SERIF} k={0.846} italic>
              λ
            </Txt>
            <Txt x={ax + 279} base={lamSubBase[row]} size={46} family={MATH_SERIF} k={0.846} italic>
              {lamSub[row]}
            </Txt>
          </React.Fragment>
        );
      })}
      <YTitle startY={425} sub="zz" />
      <YTitle startY={1024} sub="θθ" />
      {/* legend */}
      <div
        style={{
          position: 'absolute',
          left: 431,
          top: 1316,
          width: 1194,
          height: 44,
          border: '2px solid #3c3c3c',
          boxSizing: 'border-box',
          background: '#fff',
        }}
      />
      <div style={{ position: 'absolute', left: 438, top: 1333, width: 10, height: 10, borderRadius: 5, background: '#e8141c' }} />
      <div style={{ position: 'absolute', left: 452, top: 1337, width: 26, height: 3, background: '#c0282c' }} />
      <Txt x={480} base={1350} size={39.3} family={SANS} k={0.8465}>
        {SERIES_NAMES[0]}
      </Txt>
      <div style={{ position: 'absolute', left: 1036, top: 1333, width: 10, height: 10, borderRadius: 5, background: '#1414c8' }} />
      <div style={{ position: 'absolute', left: 1048, top: 1337, width: 16, height: 3, background: '#2828c0' }} />
      <Txt x={1065} base={1350} size={39.3} family={SANS} k={0.8465}>
        {SERIES_NAMES[1]}
      </Txt>
    </div>
  );
}
